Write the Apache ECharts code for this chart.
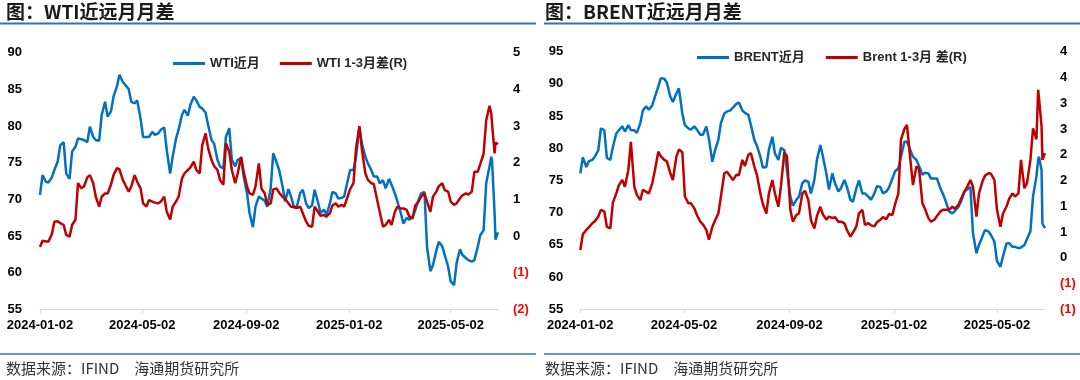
<!DOCTYPE html>
<html><head><meta charset="utf-8">
<script src="https://cdn.jsdelivr.net/npm/echarts@6/dist/echarts.min.js"></script>
<style>html,body{margin:0;padding:0;background:#fff}#c{width:1080px;height:380px}</style>
</head><body><div id="c"></div>
<script>
// ---- data ----
const dates = [
'2024-01-02','2024-01-05','2024-01-09','2024-01-12','2024-01-16','2024-01-19','2024-01-23','2024-01-26','2024-01-30','2024-02-02',
'2024-02-06','2024-02-09','2024-02-13','2024-02-16','2024-02-20','2024-02-23','2024-02-27','2024-03-01','2024-03-05','2024-03-08',
'2024-03-12','2024-03-15','2024-03-19','2024-03-22','2024-03-26','2024-03-29','2024-04-02','2024-04-05','2024-04-09','2024-04-12',
'2024-04-16','2024-04-19','2024-04-23','2024-04-26','2024-04-30','2024-05-03','2024-05-07','2024-05-10','2024-05-14','2024-05-17',
'2024-05-21','2024-05-24','2024-05-28','2024-05-31','2024-06-04','2024-06-07','2024-06-11','2024-06-14','2024-06-18','2024-06-21',
'2024-06-25','2024-06-28','2024-07-02','2024-07-05','2024-07-09','2024-07-12','2024-07-16','2024-07-19','2024-07-23','2024-07-26',
'2024-07-30','2024-08-02','2024-08-06','2024-08-09','2024-08-13','2024-08-16','2024-08-20','2024-08-23','2024-08-27','2024-08-30',
'2024-09-03','2024-09-06','2024-09-10','2024-09-13','2024-09-17','2024-09-20','2024-09-24','2024-09-27','2024-10-01','2024-10-04',
'2024-10-08','2024-10-11','2024-10-15','2024-10-18','2024-10-22','2024-10-25','2024-10-29','2024-11-01','2024-11-05','2024-11-08',
'2024-11-12','2024-11-15','2024-11-19','2024-11-22','2024-11-26','2024-11-29','2024-12-03','2024-12-06','2024-12-10','2024-12-13',
'2024-12-17','2024-12-20','2024-12-24','2024-12-27','2024-12-31','2025-01-03','2025-01-07','2025-01-10','2025-01-14','2025-01-17',
'2025-01-21','2025-01-24','2025-01-28','2025-01-31','2025-02-04','2025-02-07','2025-02-11','2025-02-14','2025-02-18','2025-02-21',
'2025-02-25','2025-02-28','2025-03-04','2025-03-07','2025-03-11','2025-03-14','2025-03-18','2025-03-21','2025-03-25','2025-03-28',
'2025-04-01','2025-04-04','2025-04-08','2025-04-11','2025-04-15','2025-04-18','2025-04-22','2025-04-25','2025-04-29','2025-05-02',
'2025-05-06','2025-05-09','2025-05-13','2025-05-16','2025-05-20','2025-05-23','2025-05-27','2025-05-30','2025-06-03','2025-06-06',
'2025-06-10','2025-06-13','2025-06-17','2025-06-19','2025-06-20','2025-06-23','2025-06-24','2025-06-27'];
const wtiFront = [
70.6,73.3,72.4,72.3,73.0,74.0,75.2,77.4,77.8,73.5,
72.8,76.5,77.2,78.3,78.2,78.1,77.8,79.9,78.5,78.1,
78.0,81.5,83.3,81.3,82.0,84.0,85.4,87.0,86.0,85.6,
85.0,83.3,83.1,83.5,81.0,78.5,78.5,78.5,79.2,78.8,
79.0,79.5,79.8,76.7,73.5,75.8,78.3,79.5,81.5,82.2,
81.4,82.9,84.0,83.5,82.6,82.4,81.8,80.1,78.1,77.6,
75.4,74.5,74.2,78.5,79.7,75.4,74.5,75.4,75.6,73.1,
70.8,68.1,66.2,69.0,70.4,70.1,69.8,69.0,71.5,76.3,
75.0,74.0,71.8,69.7,71.4,70.4,68.8,69.0,70.9,71.3,
69.4,68.8,69.2,71.3,69.6,68.1,68.6,67.9,69.4,71.0,
70.8,70.1,70.2,70.4,72.5,74.0,74.0,75.8,79.8,77.6,
75.8,74.9,74.0,73.1,73.1,72.2,72.6,71.5,72.8,72.0,
70.8,69.7,68.1,66.7,67.5,67.2,67.6,68.5,69.9,70.8,
71.0,63.5,60.2,61.0,63.0,64.2,63.6,62.4,60.8,58.8,
58.3,61.3,63.2,62.4,62.0,61.7,61.5,61.7,63.5,65.1,
65.8,72.2,74.5,75.8,75.2,68.0,64.5,65.5];
const wtiSpread = [
-0.30,-0.13,-0.15,-0.15,0.05,0.39,0.40,0.35,0.30,0.03,
-0.02,0.30,0.45,1.44,1.30,1.35,1.60,1.66,1.44,1.07,
0.80,1.07,1.16,1.16,1.40,1.66,1.85,1.82,1.53,1.39,
1.21,1.35,1.66,1.48,1.30,0.89,0.80,0.98,0.94,0.91,
0.89,0.94,1.07,0.66,0.45,0.80,0.94,1.07,1.57,1.71,
1.80,1.87,2.03,1.80,1.71,2.48,2.80,2.39,2.07,1.91,
1.80,1.53,1.40,2.53,2.30,1.80,1.44,1.71,2.16,1.75,
1.35,1.16,1.12,1.35,1.98,1.30,1.16,0.85,0.89,1.27,
1.30,1.18,1.07,1.02,0.89,0.80,0.80,0.76,0.80,0.62,
0.39,0.28,0.25,0.80,0.66,0.55,0.57,0.53,0.62,0.83,
0.89,0.80,0.85,0.80,1.07,1.28,1.44,2.39,3.00,2.35,
1.71,1.53,1.44,1.42,0.98,0.66,0.25,0.30,0.44,0.30,
0.66,0.80,0.75,0.75,0.71,0.53,0.48,0.83,0.94,1.07,
1.16,0.94,0.66,1.07,1.21,1.36,1.44,1.25,1.21,0.94,
0.85,0.89,1.03,1.11,1.16,1.13,1.21,1.75,1.75,1.96,
2.25,3.15,3.55,3.35,3.05,2.25,2.55,2.50];
const brentFront = [
76.1,78.6,77.1,78.0,78.2,78.7,79.7,83.1,82.8,78.5,
78.2,80.2,82.3,82.8,83.4,82.6,83.6,82.8,82.8,82.4,
83.9,85.9,86.5,86.0,86.7,88.0,89.6,90.9,90.8,90.2,
88.0,87.2,88.5,89.3,85.4,83.6,83.1,82.9,83.4,82.9,
82.1,82.1,83.4,81.5,77.9,79.6,81.3,83.9,85.4,85.7,
85.9,86.3,86.9,87.1,85.9,85.5,85.2,83.6,81.3,80.4,
78.7,77.0,77.1,79.8,81.8,79.2,78.2,80.1,79.7,76.6,
72.5,71.1,72.0,72.5,74.6,75.0,74.8,73.0,75.1,78.2,
80.5,78.7,76.1,73.6,76.1,74.6,73.3,73.8,75.1,74.0,
72.0,71.7,73.8,75.0,73.0,73.0,72.5,72.0,73.0,74.1,
74.0,73.0,73.3,73.9,75.3,76.4,76.9,78.7,81.0,81.0,
79.7,78.7,78.2,77.3,75.9,76.2,76.1,75.3,75.3,75.3,
73.8,72.9,71.5,70.2,69.9,70.3,70.9,71.7,73.3,73.6,
74.0,66.8,63.7,65.0,66.3,67.3,67.1,66.5,65.5,62.5,
61.6,63.2,65.2,65.3,64.7,64.7,64.5,64.6,65.0,65.9,
67.1,72.5,75.6,78.2,78.7,76.6,68.3,67.6];
const brentSpread = [
0.15,0.46,0.54,0.59,0.67,0.71,0.80,0.93,0.90,0.60,
0.57,1.07,1.25,1.41,1.51,1.38,1.70,2.25,1.38,1.22,
1.12,1.32,1.28,1.25,1.45,1.70,2.06,1.97,1.90,1.87,
1.64,1.51,1.96,2.10,2.05,1.19,1.06,1.06,0.96,0.83,
0.70,0.65,0.54,0.35,0.60,0.72,0.86,1.19,1.64,1.67,
1.58,1.51,1.61,1.60,1.90,1.78,2.00,2.03,1.77,1.61,
1.25,1.04,0.86,1.25,1.51,1.25,0.99,1.39,2.05,1.97,
0.93,0.70,0.83,0.86,1.25,1.30,1.12,0.73,0.57,0.81,
0.99,0.84,0.74,0.80,0.77,0.79,0.70,0.70,0.67,0.54,
0.41,0.49,0.61,0.86,0.93,0.64,0.67,0.63,0.61,0.69,
0.74,0.79,0.75,0.85,0.83,1.03,1.25,2.29,2.50,2.58,
1.90,1.41,1.77,1.74,1.06,0.95,0.77,0.70,0.74,0.81,
0.90,0.93,0.93,0.93,0.99,0.95,1.03,1.14,1.28,1.37,
1.51,1.38,0.80,1.25,1.48,1.59,1.64,1.63,1.51,0.93,
0.60,0.86,0.99,1.14,1.25,1.19,1.25,1.90,1.35,1.45,
1.90,2.51,2.30,3.26,3.10,2.55,1.90,2.03];
const xTickDates = ['2024-01-02','2024-05-02','2024-09-02','2025-01-02','2025-05-02'];
const xStart = '2024-01-02', xEnd = '2025-06-27';
const titles = ['图：WTI近远月月差','图：BRENT近远月月差'];
const sourceText = '数据来源：IFIND　海通期货研究所';
const names = [['WTI近月','WTI 1-3月差(R)'],['BRENT近月','Brent 1-3月 差(R)']];

// ---- chart ----
const BLUE = '#0070C0', RED = '#C00000';
const parse = s => { const p = s.split('-').map(Number); return Date.UTC(p[0], p[1]-1, p[2]) / 86400000; };
const pad = n => (n < 10 ? '0' : '') + n;
const fmtDate = v => { const d = new Date(Math.round(v) * 86400000); return d.getUTCFullYear() + '-' + pad(d.getUTCMonth()+1) + '-' + pad(d.getUTCDate()); };
const pairs = vals => dates.map((d, i) => [parse(d), vals[i]]);
const LF = '"Liberation Sans", Arial, "Noto Sans CJK SC", sans-serif';
const CJK = '"Noto Sans CJK SC", "Liberation Sans", sans-serif';

function xAxis(gi) {
  const ticks = xTickDates.map(parse);
  return {
    type: 'value', gridIndex: gi, min: parse(xStart), max: parse(xEnd),
    axisLine: { show: true, onZero: false, lineStyle: { color: '#d9d9d9', width: 1 } },
    axisTick: { show: true, customValues: ticks, length: 4, lineStyle: { color: '#d9d9d9' } },
    axisLabel: { customValues: ticks, formatter: v => fmtDate(v), margin: 10,
      fontFamily: LF, fontWeight: 'bold', fontSize: 13, color: '#000' },
    splitLine: { show: false }
  };
}
function leftAxis(gi, min, max, margin) {
  return { type: 'value', gridIndex: gi, position: 'left', min, max, interval: 5,
    axisLine: { show: false }, axisTick: { show: false }, splitLine: { show: false },
    axisLabel: { margin, fontFamily: LF, fontWeight: 'bold', fontSize: 13, color: '#000' } };
}
function rightAxis(gi, min, max, interval) {
  return { type: 'value', gridIndex: gi, position: 'right', min, max, interval,
    axisLine: { show: false }, axisTick: { show: false }, splitLine: { show: false },
    axisLabel: { margin: 15, fontFamily: LF, fontWeight: 'bold', fontSize: 13,
      color: v => Number(v) < 0 ? '#FF0000' : '#000',
      formatter: v => { const r = Math.round(Math.abs(v)); return v < 0 ? '(' + r + ')' : String(r); } } };
}
function line(name, xi, yi, data, color) {
  return { type: 'line', name, xAxisIndex: xi, yAxisIndex: yi, data: pairs(data),
    symbol: 'none', showSymbol: false, lineStyle: { width: 2.5, color }, itemStyle: { color } };
}
function legend(left, top, data, gap) {
  return { left, top, itemWidth: 32, itemHeight: 3, itemGap: gap, data, icon: 'rect',
    textStyle: { fontFamily: LF, fontWeight: 'bold', fontSize: 13, color: '#262626' } };
}

const option = {
  animation: false,
  backgroundColor: '#fff',
  grid: [
    { left: 40, top: 52.7, width: 458, height: 256.6 },
    { left: 580.3, top: 51.7, width: 464.7, height: 257.6 }
  ],
  xAxis: [xAxis(0), xAxis(1)],
  yAxis: [leftAxis(0, 55, 90, 18), rightAxis(0, -2, 5, 1), leftAxis(1, 55, 95, 17), rightAxis(1, -1, 4, 0.5)],
  legend: [ legend(168, 52, names[0], 20), legend(692, 46, names[1], 21) ],
  series: [
    line(names[0][0], 0, 0, wtiFront, BLUE),
    line(names[0][1], 0, 1, wtiSpread, RED),
    line(names[1][0], 1, 2, brentFront, BLUE),
    line(names[1][1], 1, 3, brentSpread, RED)
  ],
  graphic: [
    { type: 'text', x: 6, y: 12, style: { text: titles[0], font: 'bold 19px ' + CJK, fill: '#1a1a1a', textVerticalAlign: 'middle' } },
    { type: 'text', x: 545, y: 12, style: { text: titles[1], font: 'bold 19px ' + CJK, fill: '#1a1a1a', textVerticalAlign: 'middle' } },
    { type: 'line', shape: { x1: 0, y1: 23.5, x2: 536, y2: 23.5 }, style: { stroke: '#2E75B6', lineWidth: 2 } },
    { type: 'line', shape: { x1: 544, y1: 23.5, x2: 1080, y2: 23.5 }, style: { stroke: '#2E75B6', lineWidth: 2 } },
    { type: 'line', shape: { x1: 0, y1: 354, x2: 536, y2: 354 }, style: { stroke: '#2E75B6', lineWidth: 1.5 } },
    { type: 'line', shape: { x1: 544, y1: 354, x2: 1080, y2: 354 }, style: { stroke: '#2E75B6', lineWidth: 1.5 } },
    { type: 'text', x: 6, y: 368, style: { text: sourceText, font: '15px ' + CJK, fill: '#333', textVerticalAlign: 'middle' } },
    { type: 'text', x: 545, y: 368, style: { text: sourceText, font: '15px ' + CJK, fill: '#333', textVerticalAlign: 'middle' } }
  ]
};
const chart = echarts.init(document.getElementById('c'));
chart.setOption(option);
</script></body></html>
